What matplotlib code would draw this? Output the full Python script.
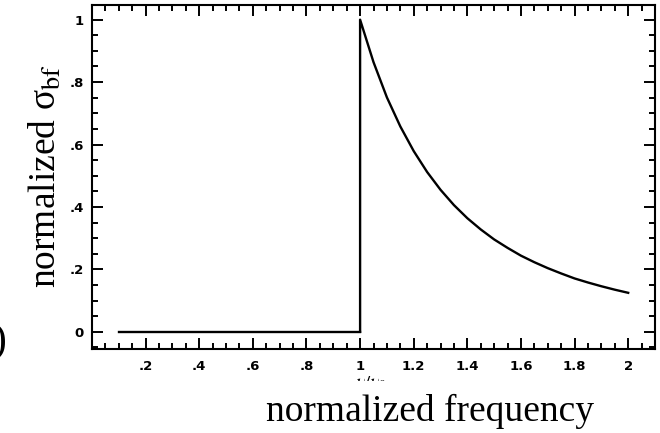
import matplotlib
matplotlib.use("Agg")
import matplotlib.pyplot as plt
from matplotlib.ticker import MultipleLocator, FixedFormatter, FixedLocator
from matplotlib.transforms import Bbox

# ── Data ─────────────────────────────────────────────────────────────────────
# zero below threshold, then the drop-off above nu/nu0 = 1
freq_below = [0.1, 1.0]
sigma_below = [0.0, 0.0]

freq_above = [1.0, 1.0, 1.05, 1.1, 1.15, 1.2, 1.25, 1.3, 1.35, 1.4, 1.45, 1.5,
              1.55, 1.6, 1.65, 1.7, 1.75, 1.8, 1.85, 1.9, 1.95, 2.0]
sigma_above = [0.0, 1.0, 0.864, 0.751, 0.658, 0.579, 0.512, 0.455, 0.406, 0.364,
               0.328, 0.296, 0.269, 0.244, 0.223, 0.204, 0.187, 0.171, 0.158,
               0.146, 0.135, 0.125]

xticks = [0.2, 0.4, 0.6, 0.8, 1.0, 1.2, 1.4, 1.6, 1.8, 2.0]
xtick_labels = [".2", ".4", ".6", ".8", "1", "1.2", "1.4", "1.6", "1.8", "2"]
yticks = [0.0, 0.2, 0.4, 0.6, 0.8, 1.0]
ytick_labels = ["0", ".2", ".4", ".6", ".8", "1"]

plt.rcParams["mathtext.fontset"] = "stix"

fig = plt.figure(figsize=(6.6, 4.33), dpi=100)
ax = fig.add_axes([92 / 660, 84 / 433, 563 / 660, 344 / 433])

ax.plot(freq_below, sigma_below, color="black", lw=1.7)
ax.plot(freq_above, sigma_above, color="black", lw=1.7)

ax.set_xlim(0.0, 2.1)
ax.set_ylim(-0.055, 1.047)

# ── Ticks: inward on all four sides ──────────────────────────────────────────
ax.xaxis.set_major_locator(FixedLocator(xticks))
ax.xaxis.set_major_formatter(FixedFormatter(xtick_labels))
ax.yaxis.set_major_locator(FixedLocator(yticks))
ax.yaxis.set_major_formatter(FixedFormatter(ytick_labels))
ax.xaxis.set_minor_locator(MultipleLocator(0.05))
ax.yaxis.set_minor_locator(MultipleLocator(0.05))
ax.tick_params(which="both", direction="in", top=True, right=True, width=1.4)
ax.tick_params(which="major", length=8, labelsize=9.5)
ax.tick_params(axis="x", which="major", pad=8)
ax.tick_params(axis="y", which="major", pad=6)
ax.tick_params(which="minor", length=4)
for lab in ax.get_xticklabels() + ax.get_yticklabels():
    lab.set_fontweight("bold")
for sp in ax.spines.values():
    sp.set_linewidth(1.5)

# ── Labels ───────────────────────────────────────────────────────────────────
fig.text(46 / 660, 1 - 176 / 433, r"normalized σ$_{\rm bf}$",
         rotation=90, ha="center", va="center", fontsize=27,
         family="Liberation Serif")
fig.text(430 / 660, 1 - 421 / 433, "normalized frequency",
         ha="center", va="baseline", fontsize=27, family="Liberation Serif")

# original axis label, mostly hidden behind the caption area
nu = fig.text(371 / 660, 1 - 388 / 433, r"$\nu/\nu_0$", ha="center",
              va="baseline", fontsize=14)
nu.set_clip_box(Bbox.from_extents(340, 433 - 381, 400, 433 - 376))
nu.set_clip_on(True)

# stray bracket at the left edge
fig.text(7 / 660, 1 - 342 / 433, ")", ha="right", va="center", fontsize=30,
         family="Liberation Serif")

fig.savefig("out.png", dpi=100)
